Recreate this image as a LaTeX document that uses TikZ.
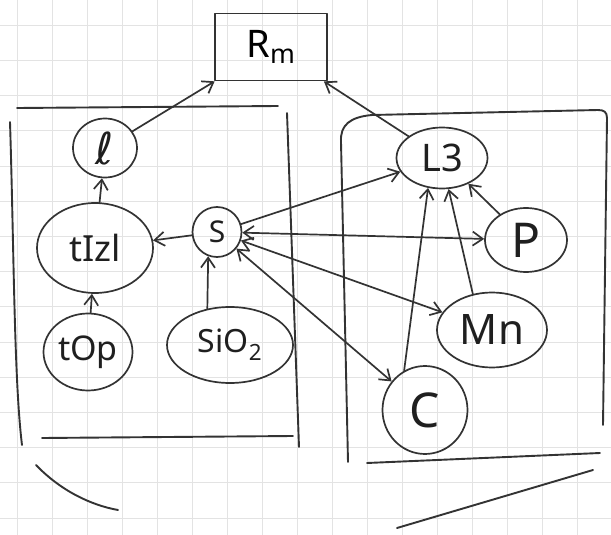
\documentclass[tikz,border=0pt]{standalone}
\usepackage{fontspec}
\setmainfont{Noto Sans}
\newfontfamily\dejavu{DejaVu Sans}
\usetikzlibrary{shapes.geometric,arrows.meta}
\begin{document}
\begin{tikzpicture}[x=1pt,y=-1pt,
  ink/.style={draw=black!80, line width=1.7pt, line cap=round, line join=round},
  blob/.style={ink, ellipse, inner sep=0pt, text=black!88},
  edge/.style={ink, -{Straight Barb[length=10pt,width=14pt]}},
  dedge/.style={ink, {Straight Barb[length=10pt,width=14pt]}-{Straight Barb[length=10pt,width=14pt]}},
  frame/.style={ink, line width=1.9pt},
  gridline/.style={draw=black!11, line width=0.6pt}]
\useasboundingbox (0,0) rectangle (611,535);
\fill[white] (0,0) rectangle (611,535);
\foreach \gx in {0,...,17} \draw[gridline] (17+35*\gx,0) -- (17+35*\gx,535);
\foreach \gy in {0,...,14} \draw[gridline] (0,25+35.2*\gy) -- (611,25+35.2*\gy);

% nodes
\node[ink, rectangle, minimum width=112pt, minimum height=67pt, inner sep=0pt,
      font=\fontsize{38}{42}\selectfont] (Rm) at (271,47) {R\textsubscript{m}};
\node[blob, minimum width=64pt, minimum height=59pt, font=\dejavu\fontsize{44}{48}\selectfont] (l) at (105,148) {ℓ};
\node[blob, minimum width=116pt, minimum height=90pt, font=\fontsize{36}{40}\selectfont] (tIzl) at (95,248) {tIzl};
\node[blob, minimum width=49pt, minimum height=50pt, font=\fontsize{30}{34}\selectfont] (S) at (217,232) {S};
\node[blob, minimum width=89pt, minimum height=77pt, font=\fontsize{34}{38}\selectfont] (tOp) at (88,352) {tOp};
\node[blob, minimum width=126pt, minimum height=76pt, font=\fontsize{32}{36}\selectfont] (SiO2) at (230,345) {SiO\textsubscript{2}};
\node[blob, minimum width=91pt, minimum height=61pt, font=\fontsize{38}{42}\selectfont] (L3) at (442,158) {L3};
\node[blob, minimum width=82pt, minimum height=64pt, font=\fontsize{48}{52}\selectfont] (P) at (526,240) {P};
\node[blob, minimum width=110pt, minimum height=75pt, font=\fontsize{42}{46}\selectfont] (Mn) at (492,330) {Mn};
\node[blob, minimum width=85pt, minimum height=88pt, font=\fontsize{48}{52}\selectfont] (C) at (425,410) {C};

% connectors
\draw[edge] (l) -- (Rm);
\draw[edge] (L3) -- (Rm);
\draw[edge] (tIzl) -- (l);
\draw[edge] (tOp) -- (tIzl);
\draw[edge] (S) -- (tIzl);
\draw[edge] (SiO2.122) -- (S.250);
\draw[edge] (S) -- (L3);
\draw[dedge] (S) -- (P);
\draw[dedge] (S) -- (Mn);
\draw[dedge] (S) -- (C);
\draw[edge] (C.118) -- (L3.245);
\draw[edge] (Mn.118) -- (L3.282);
\draw[edge] (P) -- (L3);

% left group frame
\draw[frame] (17,108) -- (278,106);
\draw[frame] (10,122) .. controls (14,250) and (14,380) .. (22,445);
\draw[frame] (36,465) .. controls (60,490) and (90,505) .. (118,510);
\draw[frame] (287,113) -- (299,447);
\draw[frame] (42,438) -- (293,436);

% right group frame
\draw[frame] (341,142) .. controls (340,125) and (350,117) .. (372,115) -- (598,110) .. controls (604,110) and (607,112) .. (607,118) -- (603,425);
\draw[frame] (341,142) -- (348,462);
\draw[frame] (367,463) -- (600,453);
\draw[frame] (397,528) -- (593,470);
\end{tikzpicture}
\end{document}
